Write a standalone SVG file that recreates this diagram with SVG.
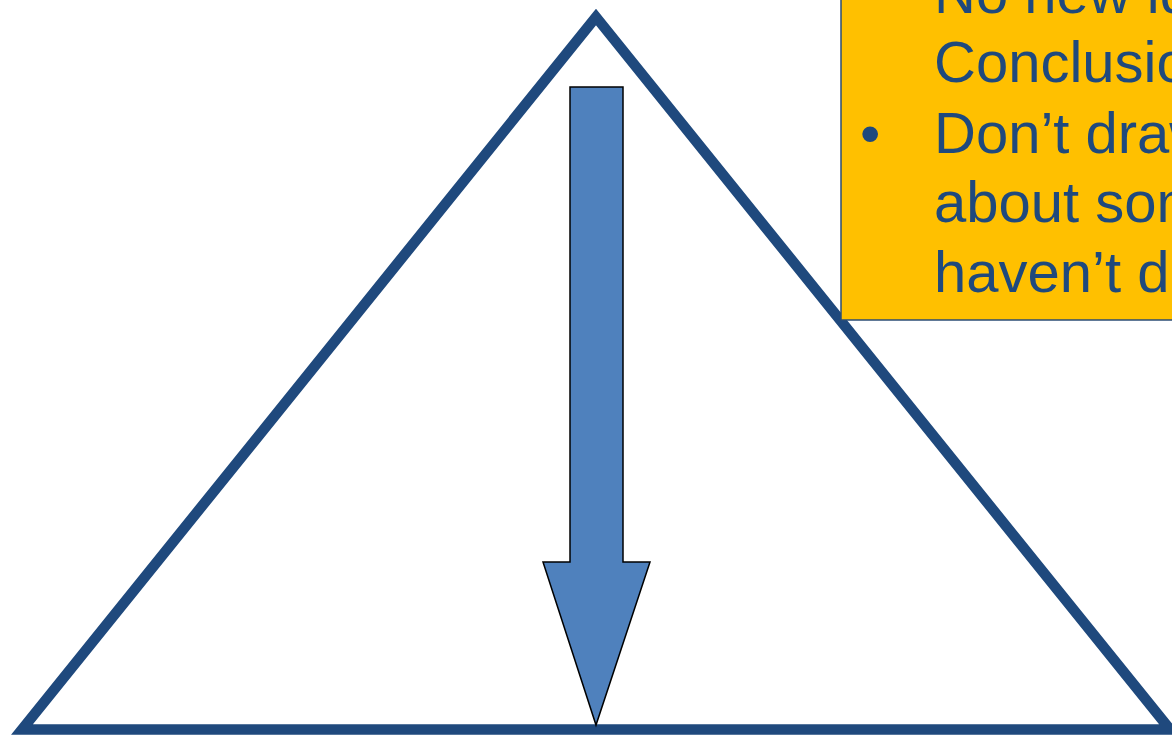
<svg xmlns="http://www.w3.org/2000/svg" width="1172" height="735" viewBox="0 0 1172 735">
<style>
.txt{font-family:"Liberation Sans",Arial,sans-serif;font-size:58px;fill:#1F497D}
</style>
<rect width="1172" height="735" fill="#FFFFFF"/>
<g id="triangle">
<polygon points="596,17 22,729.5 1170,729.5" fill="none" stroke="#1F497D" stroke-width="10.5" stroke-linejoin="miter" stroke-miterlimit="10"/>
</g>
<g id="arrow">
<polygon points="570,87 623,87 623,562 650,562 596,725 543,562 570,562" fill="#4F81BD" stroke="#000000" stroke-width="1.5" stroke-linejoin="miter"/>
</g>
<g id="note">
<rect x="841" y="-10" width="345" height="330" fill="#FFC000" stroke="#2C4D75" stroke-width="1.5"/>
<text class="txt" x="934" y="13">No new ideas in</text>
<text class="txt" x="934" y="82">Conclusion</text>
<text class="txt" x="860" y="153">•</text>
<text class="txt" x="934" y="153">Don’t draw</text>
<text class="txt" x="934" y="222">about something</text>
<text class="txt" x="934" y="292">haven’t discussed</text>
</g>
</svg>
